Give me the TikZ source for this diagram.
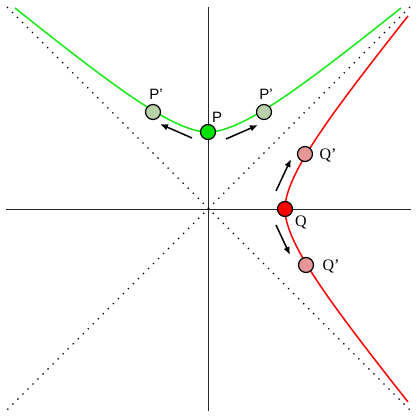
\documentclass[tikz,border=0pt]{standalone}
\usepackage{fontspec}
\setmainfont{Liberation Serif}
\newfontfamily\arialfont{Liberation Sans}
\usetikzlibrary{arrows.meta}
\definecolor{hgreen}{RGB}{20,235,20}
\definecolor{pgreen}{RGB}{10,225,10}
\definecolor{plight}{RGB}{185,210,170}
\definecolor{qpink}{RGB}{230,150,150}
\definecolor{hred}{RGB}{255,0,0}
\tikzset{
  axis/.style={draw=black!85, line width=0.9pt},
  asym/.style={draw=black, line width=1.3pt, dash pattern=on 1.3pt off 5.8pt},
  curve/.style={line width=1.5pt},
  pt/.style={circle, draw=black, line width=1.2pt, minimum size=15pt, inner sep=0pt},
  mover/.style={draw=black, line width=1.5pt, -{Latex[length=8pt,width=6.5pt]}},
  plab/.style={font=\arialfont\fontsize{15}{15}\selectfont, inner sep=0pt},
  qlab/.style={font=\fontsize{16}{16}\selectfont, inner sep=0pt}
}
\begin{document}
\begin{tikzpicture}[x=1pt,y=-1pt]
\useasboundingbox (0,0) rectangle (420,419);
\fill[white] (0,0) rectangle (420,419);
% axes
\coordinate (vt) at (208,7);
\coordinate (vb) at (208,411);
\coordinate (hl) at (6,209);
\coordinate (hr) at (411,209);
\draw[axis] (vt) -- (vb);
\draw[axis] (hl) -- (hr);
% asymptotes
\coordinate (a1) at (7,7);
\coordinate (a2) at (410,410);
\coordinate (a3) at (410,7);
\coordinate (a4) at (7,410);
\draw[asym] (a1) -- (a2);
\draw[asym] (a3) -- (a4);
% curves
\coordinate (gl) at (15,8);
\coordinate (gr) at (401,8);
\coordinate (rt) at (408,16);
\coordinate (rb) at (408,402);
\draw[curve, hgreen] (gl) .. controls (114,87) and (174,132) .. (208,132)
  .. controls (242,132) and (302,87) .. (gr);
\draw[curve, hred] (rt) .. controls (330,115) and (285,175) .. (285,209)
  .. controls (285,243) and (330,303) .. (rb);
% arrows
\coordinate (la1) at (192,138);
\coordinate (la2) at (160,124);
\coordinate (ra1) at (226,139);
\coordinate (ra2) at (258,125);
\coordinate (ua1) at (276,191);
\coordinate (ua2) at (291,159);
\coordinate (da1) at (276,225);
\coordinate (da2) at (290,255);
\draw[mover] (la1) -- (la2);
\draw[mover] (ra1) -- (ra2);
\draw[mover] (ua1) -- (ua2);
\draw[mover] (da1) -- (da2);
% points
\node[pt, fill=pgreen] (P) at (208,132) {};
\node[pt, fill=plight] (PL) at (153,112) {};
\node[pt, fill=plight] (PR) at (264,112) {};
\node[pt, fill=hred] (Q) at (285,209) {};
\node[pt, fill=qpink] (QU) at (305,154) {};
\node[pt, fill=qpink] (QD) at (306,265) {};
% labels
\node[plab] (Pt) at (217,117) {P};
\node[plab] (PLt) at (156,94) {P’};
\node[plab] (PRt) at (266,94) {P’};
\node[qlab] (Qt) at (301,223) {Q};
\node[qlab] (QUt) at (328,155) {Q’};
\node[qlab] (QDt) at (331,266) {Q’};
\end{tikzpicture}
\end{document}
